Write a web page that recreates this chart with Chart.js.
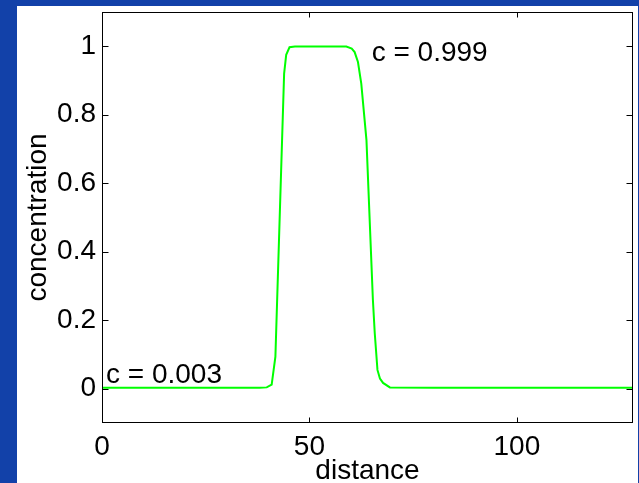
<!DOCTYPE html>
<html>
<head>
<meta charset="utf-8">
<script src="https://cdn.jsdelivr.net/npm/chart.js@4.4.0/dist/chart.umd.min.js"></script>
<style>
  html, body { margin: 0; padding: 0; background: #1241a9; }
  canvas { display: block; }
</style>
</head>
<body>
<canvas id="profile" width="639" height="483"></canvas>
<script>
// concentration profile along the channel
const distance = [0, 10, 20, 30, 38, 39.7, 40.9, 41.8, 43.9, 44.4, 45.2, 46.5, 50, 55, 58.9,
  60.2, 60.9, 61.7, 62.5, 63.75, 65.3, 65.75, 66.4, 67.0, 67.75, 69.4, 80, 100, 128];
const concentration = [0.003, 0.003, 0.003, 0.003, 0.003, 0.004, 0.012, 0.094, 0.92, 0.975, 0.997, 0.999, 0.999, 0.999, 0.999,
  0.993, 0.983, 0.954, 0.891, 0.726, 0.26, 0.162, 0.055, 0.03, 0.017, 0.004, 0.003, 0.003, 0.003];

const xTicks = [0, 50, 100];
const yTicks = [0, 0.2, 0.4, 0.6, 0.8, 1];

const cMax = Math.max(...concentration);
const cMin = Math.min(...concentration);

const FONT = { family: '"Liberation Sans", Arial, sans-serif', size: 28 };
const FONT_CSS = '28px "Liberation Sans", Arial, sans-serif';

// white figure panel, boxed axes with inward ticks on all four sides, and the c = ... notes
const matlabFrame = {
  id: 'matlabFrame',
  beforeDraw(chart) {
    const ctx = chart.ctx;
    ctx.save();
    ctx.fillStyle = '#1241a9';
    ctx.fillRect(0, 0, chart.width, chart.height);
    ctx.fillStyle = '#ffffff';
    ctx.fillRect(17, 6, 621, 477);
    ctx.restore();
  },
  afterDraw(chart) {
    const { ctx, chartArea: a, scales: { x, y } } = chart;
    const L = Math.round(a.left) + 0.5;
    const R = Math.round(a.right) - 0.5;
    const T = Math.round(a.top) + 0.5;
    const B = Math.round(a.bottom) - 0.5;
    ctx.save();
    ctx.strokeStyle = '#000';
    ctx.lineWidth = 1;
    ctx.beginPath();
    xTicks.forEach(v => {
      const px = Math.round(x.getPixelForValue(v)) + 0.5;
      ctx.moveTo(px, B); ctx.lineTo(px, B - 5);
      ctx.moveTo(px, T); ctx.lineTo(px, T + 5);
    });
    yTicks.forEach(v => {
      const py = Math.round(y.getPixelForValue(v)) + 0.5;
      ctx.moveTo(L, py); ctx.lineTo(L + 6, py);
      ctx.moveTo(R, py); ctx.lineTo(R - 6, py);
    });
    ctx.stroke();
    ctx.strokeRect(L, T, R - L, B - T);

    ctx.fillStyle = '#000';
    ctx.font = FONT_CSS;
    ctx.textAlign = 'left';
    ctx.textBaseline = 'alphabetic';
    ctx.fillText('c = ' + cMax.toFixed(3), x.getPixelForValue(65), y.getPixelForValue(0.956));
    ctx.fillText('c = ' + cMin.toFixed(3), x.getPixelForValue(0.96), y.getPixelForValue(0.016));
    ctx.restore();
  }
};

new Chart(document.getElementById('profile'), {
  type: 'line',
  data: {
    datasets: [{
      data: distance.map((d, i) => ({ x: d, y: concentration[i] })),
      borderColor: '#00ff00',
      borderWidth: 2,
      pointRadius: 0,
      tension: 0,
      fill: false
    }]
  },
  options: {
    responsive: false,
    animation: false,
    events: [],
    layout: { padding: { top: 12, right: 6, left: 0, bottom: 0 } },
    plugins: { legend: { display: false }, tooltip: { enabled: false } },
    scales: {
      x: {
        type: 'linear',
        min: 0,
        max: 128,
        afterBuildTicks: s => { s.ticks = xTicks.map(v => ({ value: v })); },
        afterFit: s => { s.height = 60; s.paddingLeft = 0; s.paddingRight = 0; },
        grid: { display: false, drawTicks: false },
        border: { display: false },
        ticks: { color: '#000', font: FONT, padding: 7, maxRotation: 0, autoSkip: false,
          callback: v => String(v) },
        title: { display: true, text: 'distance', color: '#000',
          font: { ...FONT, lineHeight: 1 }, padding: { top: 0, bottom: -2 } }
      },
      y: {
        type: 'linear',
        min: -0.1,
        max: 1.1,
        afterBuildTicks: s => { s.ticks = yTicks.map(v => ({ value: v })); },
        afterFit: s => { s.width = 102; s.paddingTop = 0; s.paddingBottom = 0; },
        grid: { display: false, drawTicks: false },
        border: { display: false },
        ticks: { color: '#000', font: FONT, padding: 6, callback: v => String(v) },
        title: { display: true, text: 'concentration', color: '#000',
          font: { ...FONT, lineHeight: 1 }, padding: { top: 24, bottom: 0 } }
      }
    }
  },
  plugins: [matlabFrame]
});
</script>
</body>
</html>
